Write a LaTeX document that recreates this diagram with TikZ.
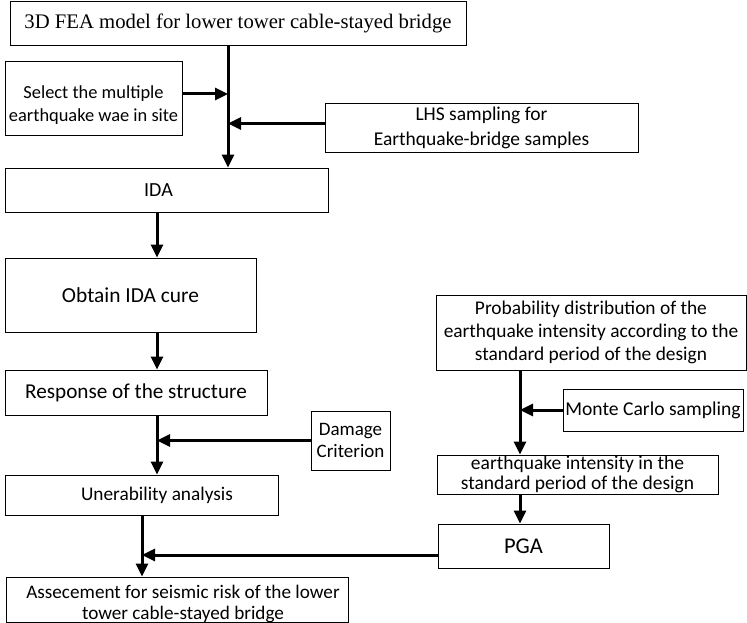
\documentclass[tikz,border=0pt]{standalone}
\usepackage{fontspec}
\setmainfont{Carlito}
\newfontfamily\timesfont{Liberation Serif}
\usetikzlibrary{arrows.meta,positioning}
\begin{document}
\begin{tikzpicture}[x=1pt,y=-1pt,>={Triangle[length=13pt,width=12pt]},
	box/.style={draw,line width=0.9pt,inner sep=1pt,align=center,font=\fontsize{19.5}{23}\selectfont},
	flow/.style={->,line width=3pt}]
	\useasboundingbox (0,0) rectangle (747,623);
	% spines
	\coordinate (s1) at (228,0);
	\coordinate (s2) at (157,0);
	\coordinate (s3) at (520,0);
	\coordinate (s4) at (142,0);
	% left column
	\node[box,minimum width=456,minimum height=44,font=\timesfont\fontsize{20.7}{24}\selectfont] (fea) at (238,23) {3D FEA model for lower tower cable-stayed bridge};
	\node[box,minimum width=177,minimum height=74,font=\fontsize{18.4}{23}\selectfont] (sel) at (93.5,98) {\rule{0pt}{27pt}Select the multiple\\earthquake wae in site};
	\node[box,minimum width=313,minimum height=49,font=\fontsize{19.5}{25}\selectfont] (lhs) at (481.5,127.5) {LHS sampling for\\Earthquake-bridge samples};
	\node[box,minimum width=323,minimum height=44,font=\fontsize{20}{24}\selectfont] (ida) at (166.5,190) {\hspace*{-16pt}IDA};
	\node[box,minimum width=251,minimum height=74,font=\fontsize{21.4}{25}\selectfont] (obt) at (130.5,295) {Obtain IDA cure};
	\node[box,minimum width=262,minimum height=45,font=\fontsize{21.2}{25}\selectfont] (resp) at (136,392.5) {Response of the structure};
	\node[box,minimum width=79,minimum height=59,font=\fontsize{19}{22}\selectfont] (dmg) at (350.5,440.5) {Damage\\Criterion};
	\node[box,minimum width=273,minimum height=40,font=\fontsize{19.3}{23}\selectfont] (vul) at (141.5,495) {\hspace*{31pt}Unerability analysis};
	\node[box,minimum width=342,minimum height=45,inner ysep=0pt,text depth=0pt,font=\fontsize{19.2}{21}\selectfont] (risk) at (177,599.5) {\hspace*{12pt}\rule{0pt}{19pt}Assecement for seismic risk of the lower\\\hspace*{12pt}tower cable-stayed bridge};
	% right column
	\node[box,minimum width=310,minimum height=75,font=\fontsize{19.4}{23}\selectfont] (prob) at (591,332.5) {Probability distribution of the\\earthquake intensity according to the\\standard period of the design};
	\node[box,minimum width=180,minimum height=42,font=\fontsize{19.6}{23}\selectfont] (mc) at (653,410) {Monte Carlo sampling};
	\node[box,minimum width=281,minimum height=39,font=\fontsize{19.5}{20}\selectfont] (eqi) at (577.5,474.5) {earthquake intensity in the\\standard period of the design};
	\node[box,minimum width=171,minimum height=44,font=\fontsize{22.5}{26}\selectfont] (pga) at (523.5,546) {PGA};
	% connectors
	\draw[flow] (fea.south -| s1) -- (ida.north -| s1);
	\draw[flow] ([yshift=4pt]sel.east) -- ([yshift=4pt]sel.east -| s1);
	\draw[flow] ([yshift=4pt]lhs.west) -- ([yshift=4pt]lhs.west -| s1);
	\draw[flow] (ida.south -| s2) -- (obt.north -| s2);
	\draw[flow] (obt.south -| s2) -- (resp.north -| s2);
	\draw[flow] (resp.south -| s2) -- (vul.north -| s2);
	\draw[flow] (dmg.west) -- (dmg.west -| s2);
	\draw[flow] (prob.south -| s3) -- (eqi.north -| s3);
	\draw[flow] (mc.west) -- (mc.west -| s3);
	\draw[flow] (eqi.south -| s3) -- (pga.north -| s3);
	\draw[flow] (vul.south -| s4) -- (risk.north -| s4);
	\draw[flow] ([yshift=-9pt]pga.west) -- ([yshift=-9pt]pga.west -| s4);
\end{tikzpicture}
\end{document}
